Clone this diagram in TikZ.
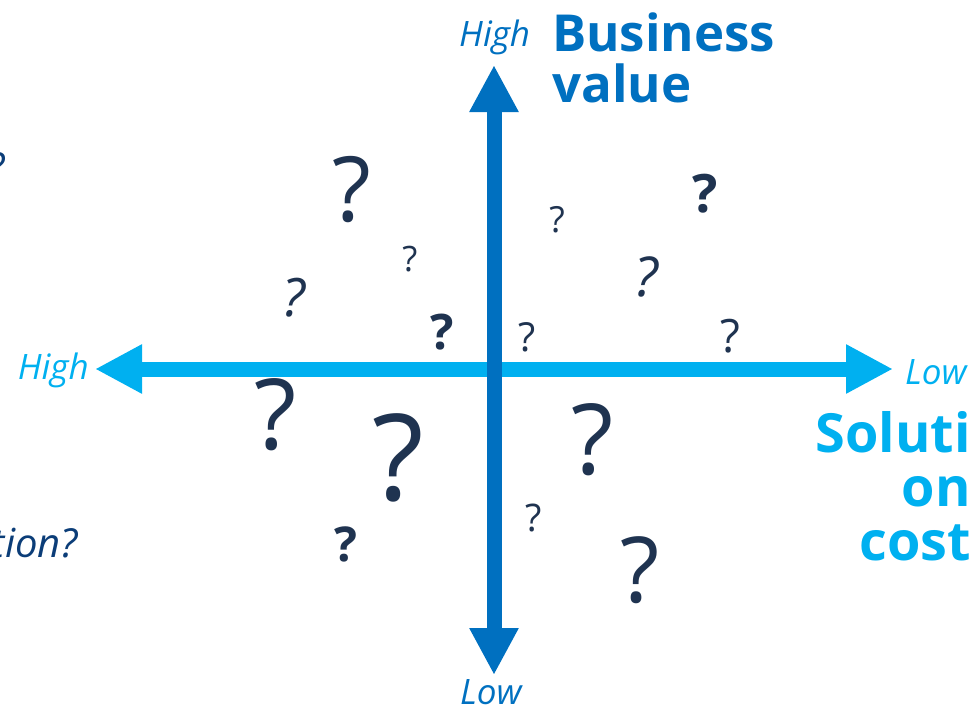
\documentclass[tikz,border=0pt]{standalone}
\usepackage{fontspec}
\setmainfont{Open Sans}
\usepackage{tikz}
\usetikzlibrary{arrows.meta}
\definecolor{hblue}{HTML}{00B0F0}
\definecolor{vblue}{HTML}{0070C0}
\definecolor{qnavy}{HTML}{1F3350}
\definecolor{noteblue}{HTML}{0B3D78}
\tikzset{
	head/.tip={Triangle[length=47pt, width=46pt]},
	% axes
	haxis/.style={line width=15pt, draw=hblue, head-head},
	vaxis/.style={line width=15pt, draw=vblue, head-head},
	% small italic High / Low at the arrow ends
	endlabel/.style 2 args={inner sep=0pt, text=#1, font=\fontsize{#2}{#2}\selectfont\itshape},
	% big bold axis titles (last line sits on the anchor)
	title/.style 2 args={inner sep=0pt, text=#1, font=\fontsize{#2}{#2}\selectfont\bfseries},
	% question marks (size, series/shape)
	qmark/.style 2 args={inner sep=0pt, text=qnavy, font=\fontsize{#1}{#1}\selectfont#2}
}
\begin{document}
\begin{tikzpicture}[x=1pt, y=-1pt]
	\useasboundingbox (0,0) rectangle (978,713);
	\clip (0,0) rectangle (978,713);
	
	% Axes
	\coordinate (W) at (95,369);
	\coordinate (E) at (893,369);
	\coordinate (N) at (494,65);
	\coordinate (S) at (494,675);
	\draw[haxis] (W) -- (E);
	\draw[vaxis] (S) -- (N);
	
	% Axis labels
	\node[endlabel={vblue}{35}, anchor=base west] (vhigh) at (459,46) {High};
	\node[endlabel={vblue}{35}, anchor=base west] (vlow) at (460,704) {Low};
	\node[endlabel={hblue}{35}, anchor=base east] (hhigh) at (89,379) {High};
	\node[endlabel={hblue}{35}, anchor=base west] (hlow) at (905,384) {Low};
	\node[title={vblue}{51}, align=left, anchor=base west] (value) at (552,102) {Business\\value};
	\node[title={hblue}{54}, align=right, anchor=base east] (cost) at (971,560) {Soluti\\on\\cost};
	
	% Notes running off the left edge
	\node[endlabel={noteblue}{40}, anchor=base east] (noteA) at (5,181) {?};
	\node[endlabel={noteblue}{40}, anchor=base east] (noteB) at (78,557) {tion?};
	
	% Question marks
	\foreach \px/\py/\sz/\st [count=\i] in {
		352/190/90/\mdseries, 410/259/35/\mdseries, 294/298/53/\itshape,
		442/332/49/\bfseries, 557/220/36/\mdseries, 705/194/53/\bfseries,
		646/277/55/\itshape, 527/337/40/\mdseries, 730/336/46/\mdseries,
		276/415/98/\mdseries, 398/458/120/\mdseries, 346/544/48/\bfseries,
		593/440/98/\mdseries, 534/518/38/\mdseries, 640/570/91/\mdseries}
	{\node[qmark={\sz}{\st}] (q\i) at (\px,\py) {?};}
\end{tikzpicture}
\end{document}
